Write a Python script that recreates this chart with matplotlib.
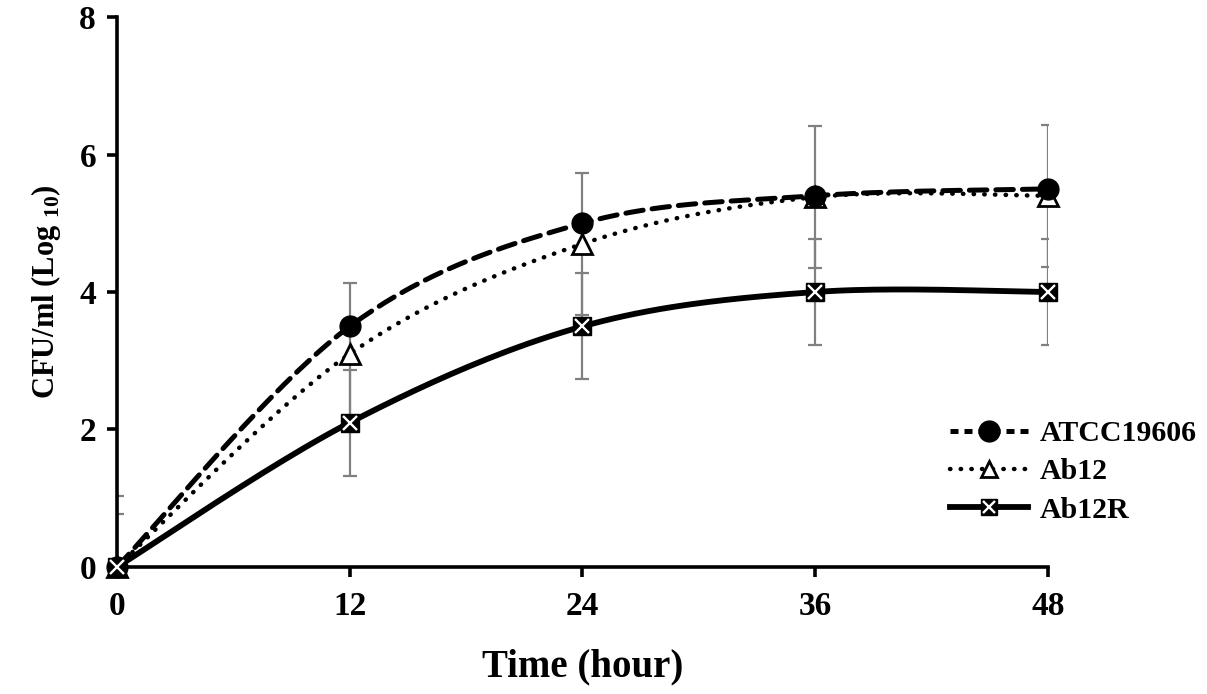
import matplotlib
matplotlib.use("Agg")
import matplotlib.pyplot as plt
import numpy as np
from matplotlib.lines import Line2D
from matplotlib.legend_handler import HandlerTuple

# data
hours = [0, 12, 24, 36, 48]
atcc = [0, 3.5, 5.0, 5.4, 5.5]
ab12 = [0, 3.1, 4.7, 5.38, 5.4]
ab12r = [0, 2.1, 3.5, 4.0, 4.0]
ab12_err = [1.03, 1.03, 1.03, 1.03, 1.03]
ab12r_err = [0.77, 0.77, 0.77, 0.77, 0.77]

plt.rcParams['font.family'] = ['Liberation Serif', 'DejaVu Serif']
plt.rcParams['font.weight'] = 'bold'
plt.rcParams['mathtext.fontset'] = 'custom'
plt.rcParams['mathtext.bf'] = 'Liberation Serif:bold'
plt.rcParams['mathtext.rm'] = 'Liberation Serif:bold'


# Excel-like smoothed line through the points (bezier, catmull-rom tangents)
def smooth(x, y, n=40):
    x = np.asarray(x, float)
    y = np.asarray(y, float)
    px = np.concatenate([[x[0]], x, [x[-1]]])
    py = np.concatenate([[y[0]], y, [y[-1]]])
    xs, ys = [], []
    t = np.linspace(0, 1, n)
    for i in range(1, len(px) - 2):
        p0 = np.array([px[i], py[i]])
        p3 = np.array([px[i + 1], py[i + 1]])
        p1 = p0 + (np.array([px[i + 1], py[i + 1]]) - np.array([px[i - 1], py[i - 1]])) / 6
        p2 = p3 - (np.array([px[i + 2], py[i + 2]]) - np.array([px[i], py[i]])) / 6
        b = ((1 - t) ** 3)[:, None] * p0 + (3 * (1 - t) ** 2 * t)[:, None] * p1 \
            + (3 * (1 - t) * t ** 2)[:, None] * p2 + (t ** 3)[:, None] * p3
        xs.extend(b[:, 0])
        ys.extend(b[:, 1])
    return xs, ys


fig = plt.figure(figsize=(12.07, 6.94), dpi=100)
ax = fig.add_axes([0.0969, 0.183, 0.7714, 0.7925])

grey = '#808080'
ax.errorbar(hours, ab12, yerr=ab12_err, fmt='none', ecolor=grey, elinewidth=1.6,
            capsize=5, capthick=1.6, zorder=2)
ax.errorbar(hours, ab12r, yerr=ab12r_err, fmt='none', ecolor=grey, elinewidth=1.6,
            capsize=5, capthick=1.6, zorder=2)

sx, sy = smooth(hours, atcc)
ax.plot(sx, sy, color='black', lw=3.6, ls=(0, (3.5, 1.8)), dash_capstyle='round', zorder=3)
sx, sy = smooth(hours, ab12)
ax.plot(sx, sy, color='black', lw=3.2, ls=(0, (0.1, 2.3)), dash_capstyle='round', zorder=3)
sx, sy = smooth(hours, ab12r)
ax.plot(sx, sy, color='black', lw=4.2, ls='-', zorder=3)

ax.plot(hours, atcc, ls='none', marker='o', ms=15, mfc='black', mec='black', zorder=5, clip_on=False)
ax.plot(hours, ab12, ls='none', marker='^', ms=14, mfc='white', mec='black', mew=2, zorder=4, clip_on=False)
ax.plot(hours, ab12r, ls='none', marker='s', ms=13, mfc='black', mec='black', zorder=5, clip_on=False)
ax.plot(hours, ab12r, ls='none', marker='x', ms=10, mec='white', mew=1.7, zorder=6, clip_on=False)

ax.set_xlim(0, 48)
ax.set_ylim(0, 8)
ax.set_xticks(hours)
ax.set_yticks([0, 2, 4, 6, 8])
for s in ['top', 'right']:
    ax.spines[s].set_visible(False)
for s in ['left', 'bottom']:
    ax.spines[s].set_linewidth(2.6)
ax.tick_params(axis='both', direction='out', width=2.6, length=7, labelsize=24, pad=8)
ax.tick_params(axis='x', pad=10)
for lab in ax.get_xticklabels() + ax.get_yticklabels():
    lab.set_fontweight('bold')

ax.set_xlabel('Time (hour)', fontsize=28, fontweight='bold', labelpad=19)
ax.set_ylabel(r'CFU/ml (Log $_{\mathbf{10}}$)', fontsize=22, fontweight='bold', labelpad=12)

h1 = Line2D([], [], color='black', lw=3.6, ls=(0, (1.6, 1.2)), marker='o', ms=15)
h2 = Line2D([], [], color='black', lw=3.2, ls=(0, (0.1, 2.3)), dash_capstyle='round',
            marker='^', ms=12, mfc='white', mew=2)
h3 = Line2D([], [], color='black', lw=4.2, marker='s', ms=12, mfc='black')
h3x = Line2D([], [], ls='none', marker='x', ms=9, mec='white', mew=1.7)
leg = fig.legend([h1, h2, (h3, h3x)], ['ATCC19606', 'Ab12', 'Ab12R'], loc='center left',
                 bbox_to_anchor=(0.765, 0.32), frameon=False, handlelength=2.6,
                 handler_map={tuple: HandlerTuple(ndivide=1, pad=0)},
                 prop={'size': 21.5, 'weight': 'bold'}, labelspacing=0.38, handletextpad=0.4)

fig.savefig('out.png', dpi=100)
